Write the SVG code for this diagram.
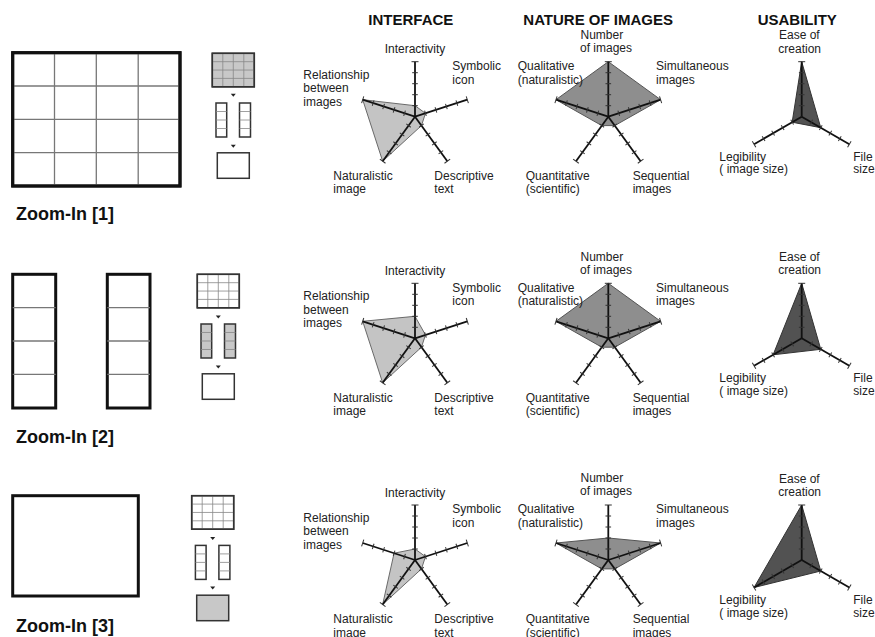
<svg xmlns="http://www.w3.org/2000/svg" width="875" height="637" viewBox="0 0 875 637">
<style>
text{font-family:"Liberation Sans",Arial,sans-serif;}
.lbl{font-size:12px;fill:#222;}
.hdr{font-size:15px;font-weight:bold;fill:#111;}
.zl{font-size:18px;font-weight:bold;fill:#111;}
.big{fill:#fff;stroke:#111;stroke-width:3;}
.gl{stroke:#777;stroke-width:1.3;fill:none;}
.sm{stroke:#333;stroke-width:1.5;}
.sgl{stroke:#888;stroke-width:0.8;fill:none;}
.wf{fill:#fff;}
.gf{fill:#c8c8c8;}
.tri{fill:#222;}
.p1{fill:#c4c4c4;stroke:#6a6a6a;stroke-width:1;}
.p2{fill:#8e8e8e;stroke:#555;stroke-width:1;}
.p3{fill:#525252;stroke:#333;stroke-width:1;}
</style>
<defs>
<g id="ax">
<line x1="0" y1="0" x2="0" y2="-55" stroke="#111" stroke-width="1.8"/>
<g stroke="#333" stroke-width="1">
<line x1="-2.8" y1="-11" x2="2.8" y2="-11"/>
<line x1="-2.8" y1="-22" x2="2.8" y2="-22"/>
<line x1="-2.8" y1="-33" x2="2.8" y2="-33"/>
<line x1="-2.8" y1="-44" x2="2.8" y2="-44"/>
<line x1="-3.5" y1="-55" x2="3.5" y2="-55"/>
</g>
</g>
<g id="ax5">
<use href="#ax"/>
<use href="#ax" transform="rotate(72)"/>
<use href="#ax" transform="rotate(144)"/>
<use href="#ax" transform="rotate(216)"/>
<use href="#ax" transform="rotate(288)"/>
</g>
<g id="ax3">
<use href="#ax"/>
<use href="#ax" transform="rotate(120)"/>
<use href="#ax" transform="rotate(240)"/>
</g>
<g id="lblI" class="lbl">
<text x="0" y="-63.4" text-anchor="middle">Interactivity</text>
<text x="-111.7" y="-38.2">Relationship</text>
<text x="-111.7" y="-24.7">between</text>
<text x="-111.7" y="-11.2">images</text>
<text x="37.3" y="-46.7">Symbolic</text>
<text x="37.3" y="-33.2">icon</text>
<text x="-81.7" y="63.3">Naturalistic</text>
<text x="-81.7" y="76.8">image</text>
<text x="19.3" y="63.3">Descriptive</text>
<text x="19.3" y="76.8">text</text>
</g>
<g id="lblN" class="lbl">
<text x="-27.8" y="-77.7">Number</text>
<text x="-28.3" y="-64.7">of images</text>
<text x="-90.6" y="-46.7">Qualitative</text>
<text x="-90.6" y="-33.2">(naturalistic)</text>
<text x="47.7" y="-46.7">Simultaneous</text>
<text x="47.7" y="-33.2">images</text>
<text x="-82.6" y="63.3">Quantitative</text>
<text x="-82.6" y="76.8">(scientific)</text>
<text x="24.4" y="63.3">Sequential</text>
<text x="24.4" y="76.8">images</text>
</g>
<g id="lblU" class="lbl">
<text x="-22.7" y="-77.5">Ease of</text>
<text x="-23.4" y="-64">creation</text>
<text x="-82.4" y="44">Legibility</text>
<text x="-82.4" y="56.6">( image size)</text>
<text x="51.6" y="44">File</text>
<text x="51.6" y="56.6">size</text>
</g>
<g id="icon">
<rect x="0" y="0" width="42" height="33.5" class="sm" fill="inherit"/>
</g>
</defs>

<g id="headers">
<text class="hdr" x="368.3" y="25">INTERFACE</text>
<text class="hdr" x="523.3" y="25">NATURE OF IMAGES</text>
<text class="hdr" x="757.7" y="25">USABILITY</text>
</g>

<!-- Row 1 -->
<g id="zoom1-view">
<rect class="big" x="12.7" y="52.7" width="167.3" height="133.3"/>
<g class="gl">
<line x1="54.5" y1="52.7" x2="54.5" y2="186"/>
<line x1="96.3" y1="52.7" x2="96.3" y2="186"/>
<line x1="138.2" y1="52.7" x2="138.2" y2="186"/>
<line x1="12.7" y1="86" x2="180" y2="86"/>
<line x1="12.7" y1="119.3" x2="180" y2="119.3"/>
<line x1="12.7" y1="152.7" x2="180" y2="152.7"/>
</g>
<rect x="12.7" y="52.7" width="167.3" height="133.3" fill="none" stroke="#111" stroke-width="3"/>
<text class="zl" x="16" y="220">Zoom-In [1]</text>
</g>
<g id="zoom1-icon" transform="translate(212.3,53.3)">
<rect x="0" y="0" width="42" height="33.5" class="sm gf"/>
<g class="sgl"><line x1="10.5" y1="0" x2="10.5" y2="33.5"/><line x1="21" y1="0" x2="21" y2="33.5"/><line x1="31.5" y1="0" x2="31.5" y2="33.5"/><line x1="0" y1="8.4" x2="42" y2="8.4"/><line x1="0" y1="16.75" x2="42" y2="16.75"/><line x1="0" y1="25.1" x2="42" y2="25.1"/></g>
<rect x="0" y="0" width="42" height="33.5" class="sm" fill="none"/>
<rect x="3.7" y="49.7" width="10.7" height="34" class="sm wf"/>
<rect x="27.2" y="49.7" width="11" height="34" class="sm wf"/>
<g class="sgl"><line x1="3.7" y1="58.2" x2="14.4" y2="58.2"/><line x1="3.7" y1="66.7" x2="14.4" y2="66.7"/><line x1="3.7" y1="75.2" x2="14.4" y2="75.2"/><line x1="27.2" y1="58.2" x2="38.2" y2="58.2"/><line x1="27.2" y1="66.7" x2="38.2" y2="66.7"/><line x1="27.2" y1="75.2" x2="38.2" y2="75.2"/></g>
<rect x="5" y="99.5" width="32" height="25.5" class="sm wf"/>
</g>
<g id="interface1" transform="translate(415,116.7)">
<polygon class="p1" points="0,-11 10.46,-3.40 6.47,8.90 -32.33,44.50 -52.31,-17.00"/>
<use href="#ax5"/>
<use href="#lblI"/>
</g>
<g id="nature1" transform="translate(608.3,116.7)">
<polygon class="p2" points="0,-55 52.31,-17.00 6.47,8.90 -6.47,8.90 -52.31,-17.00"/>
<use href="#ax5"/>
<use href="#lblN"/>
</g>
<g id="usability1" transform="translate(801.7,116.7)">
<polygon class="p3" points="0,-55 19.05,11 -9.53,5.5"/>
<use href="#ax3"/>
<use href="#lblU"/>
</g>

<!-- Row 2 -->
<g id="zoom2-view">
<rect class="big" x="12.7" y="274.3" width="43" height="133.7"/>
<rect class="big" x="107.3" y="274.3" width="42.7" height="133.7"/>
<g class="gl">
<line x1="12.7" y1="307.7" x2="55.7" y2="307.7"/>
<line x1="12.7" y1="341" x2="55.7" y2="341"/>
<line x1="12.7" y1="374.4" x2="55.7" y2="374.4"/>
<line x1="107.3" y1="307.7" x2="150" y2="307.7"/>
<line x1="107.3" y1="341" x2="150" y2="341"/>
<line x1="107.3" y1="374.4" x2="150" y2="374.4"/>
</g>
<text class="zl" x="16" y="443">Zoom-In [2]</text>
</g>
<g id="zoom2-icon" transform="translate(197.3,274.3)">
<rect x="0" y="0" width="42" height="33.5" class="sm wf"/>
<g class="sgl"><line x1="10.5" y1="0" x2="10.5" y2="33.5"/><line x1="21" y1="0" x2="21" y2="33.5"/><line x1="31.5" y1="0" x2="31.5" y2="33.5"/><line x1="0" y1="8.4" x2="42" y2="8.4"/><line x1="0" y1="16.75" x2="42" y2="16.75"/><line x1="0" y1="25.1" x2="42" y2="25.1"/></g>
<rect x="0" y="0" width="42" height="33.5" class="sm" fill="none"/>
<rect x="3.7" y="49.7" width="10.7" height="34" class="sm gf"/>
<rect x="27.2" y="49.7" width="11" height="34" class="sm gf"/>
<g class="sgl"><line x1="3.7" y1="58.2" x2="14.4" y2="58.2"/><line x1="3.7" y1="66.7" x2="14.4" y2="66.7"/><line x1="3.7" y1="75.2" x2="14.4" y2="75.2"/><line x1="27.2" y1="58.2" x2="38.2" y2="58.2"/><line x1="27.2" y1="66.7" x2="38.2" y2="66.7"/><line x1="27.2" y1="75.2" x2="38.2" y2="75.2"/></g>
<rect x="5" y="99.5" width="32" height="25.5" class="sm wf"/>
</g>
<g id="interface2" transform="translate(415,338.3)">
<polygon class="p1" points="0,-22 10.46,-3.40 6.47,8.90 -32.33,44.50 -52.31,-17.00"/>
<use href="#ax5"/>
<use href="#lblI"/>
</g>
<g id="nature2" transform="translate(608.3,338.3)">
<polygon class="p2" points="0,-55 52.31,-17.00 6.47,8.90 -6.47,8.90 -52.31,-17.00"/>
<use href="#ax5"/>
<use href="#lblN"/>
</g>
<g id="usability2" transform="translate(801.7,338.3)">
<polygon class="p3" points="0,-55 19.05,11 -28.58,16.5"/>
<use href="#ax3"/>
<use href="#lblU"/>
</g>

<!-- Row 3 -->
<g id="zoom3-view">
<rect class="big" x="12.7" y="495.7" width="125.6" height="100.3"/>
<text class="zl" x="16" y="631.5">Zoom-In [3]</text>
</g>
<g id="zoom3-icon" transform="translate(191.7,495.7)">
<rect x="0" y="0" width="42" height="33.5" class="sm wf"/>
<g class="sgl"><line x1="10.5" y1="0" x2="10.5" y2="33.5"/><line x1="21" y1="0" x2="21" y2="33.5"/><line x1="31.5" y1="0" x2="31.5" y2="33.5"/><line x1="0" y1="8.4" x2="42" y2="8.4"/><line x1="0" y1="16.75" x2="42" y2="16.75"/><line x1="0" y1="25.1" x2="42" y2="25.1"/></g>
<rect x="0" y="0" width="42" height="33.5" class="sm" fill="none"/>
<rect x="3.7" y="49.7" width="10.7" height="34" class="sm wf"/>
<rect x="27.2" y="49.7" width="11" height="34" class="sm wf"/>
<g class="sgl"><line x1="3.7" y1="58.2" x2="14.4" y2="58.2"/><line x1="3.7" y1="66.7" x2="14.4" y2="66.7"/><line x1="3.7" y1="75.2" x2="14.4" y2="75.2"/><line x1="27.2" y1="58.2" x2="38.2" y2="58.2"/><line x1="27.2" y1="66.7" x2="38.2" y2="66.7"/><line x1="27.2" y1="75.2" x2="38.2" y2="75.2"/></g>
<rect x="5" y="99.5" width="32" height="25.5" class="sm gf"/>
</g>
<g id="interface3" transform="translate(415,560)">
<polygon class="p1" points="0,-11 10.46,-3.40 6.47,8.90 -32.33,44.50 -20.92,-6.80"/>
<use href="#ax5"/>
<use href="#lblI"/>
</g>
<g id="nature3" transform="translate(608.3,560)">
<polygon class="p2" points="0,-22 52.31,-17.00 6.47,8.90 -6.47,8.90 -52.31,-17.00"/>
<use href="#ax5"/>
<use href="#lblN"/>
</g>
<g id="usability3" transform="translate(801.7,560)">
<polygon class="p3" points="0,-55 19.05,11 -47.63,27.5"/>
<use href="#ax3"/>
<use href="#lblU"/>
</g>

<g id="connectors">
<polygon class="tri" points="230.8,93.8 235.8,93.8 233.3,96.8"/>
<polygon class="tri" points="230.8,144.8 235.8,144.8 233.3,147.8"/>
<polygon class="tri" points="215.8,315.5 220.8,315.5 218.3,318.5"/>
<polygon class="tri" points="215.8,365.5 220.8,365.5 218.3,368.5"/>
<polygon class="tri" points="210.2,537 215.2,537 212.7,540"/>
<polygon class="tri" points="210.2,586.5 215.2,586.5 212.7,589.5"/>
</g>
</svg>
